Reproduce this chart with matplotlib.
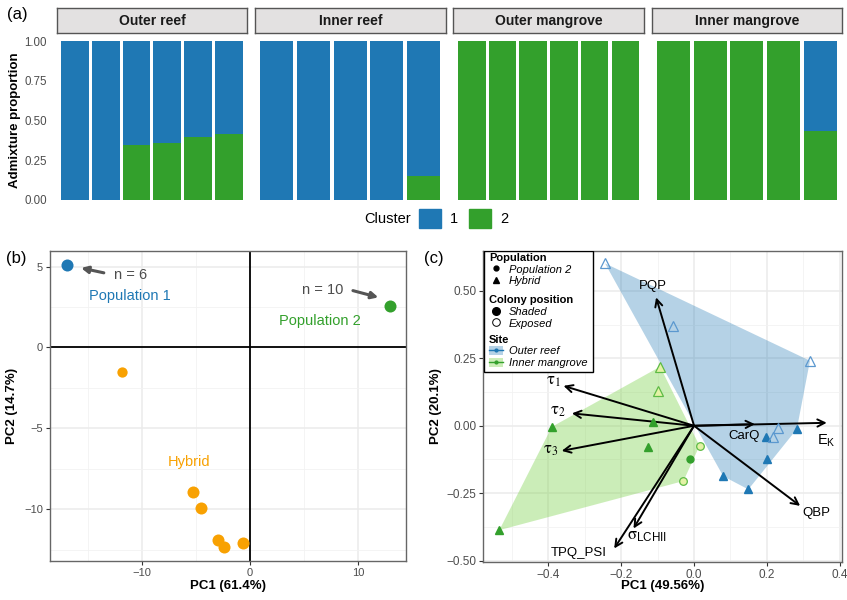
import numpy as np
import matplotlib
matplotlib.use("Agg")
import matplotlib.pyplot as plt
from matplotlib.patches import Patch, Rectangle, Polygon
from matplotlib.lines import Line2D

plt.rcParams['font.family'] = ['Liberation Sans', 'DejaVu Sans']
plt.rcParams['mathtext.fontset'] = 'stix'

BLUE = '#1F78B4'
GREEN = '#33A02C'
ORANGE = '#F8A102'
TICK_COL = '#4D4D4D'

# ---- (a) admixture proportions (cluster 2 share per colony)
sites = ['Outer reef', 'Inner reef', 'Outer mangrove', 'Inner mangrove']
cluster2 = [
    [0.0, 0.0, 0.347, 0.359, 0.397, 0.418],
    [0.0, 0.0, 0.0, 0.0, 0.153],
    [1.0, 1.0, 1.0, 1.0, 1.0, 1.0],
    [1.0, 1.0, 1.0, 1.0, 0.435],
]

# ---- (b) genetic PCA
pop1_x = [-16.9]
pop1_y = [5.1]
pop2_x = [12.9]
pop2_y = [2.55]
hyb_x = [-11.85, -5.23, -4.52, -2.92, -2.40, -0.68]
hyb_y = [-1.5, -8.93, -9.95, -11.9, -12.35, -12.1]

# ---- (c) photophysiology PCA
or_shaded_x = [0.197, 0.282, 0.199, 0.080, 0.149]
or_shaded_y = [-0.043, -0.012, -0.124, -0.187, -0.236]
or_exposed_x = [-0.244, -0.057, 0.318, 0.231, 0.217]
or_exposed_y = [0.602, 0.371, 0.241, -0.010, -0.043]
im_hyb_shaded_x = [-0.390, -0.113, -0.127, -0.534]
im_hyb_shaded_y = [-0.004, 0.015, -0.078, -0.387]
im_hyb_exposed_x = [-0.093, -0.100]
im_hyb_exposed_y = [0.219, 0.129]
im_pop2_shaded_x = [-0.011]
im_pop2_shaded_y = [-0.124]
im_pop2_exposed_x = [0.015, -0.029]
im_pop2_exposed_y = [-0.074, -0.205]

load_names = ['PQP', r'E$_\mathregular{K}$', 'CarQ', 'QBP',
              r'$\mathrm{\tau}_\mathrm{1}$', r'$\mathrm{\tau}_\mathrm{2}$', r'$\mathrm{\tau}_\mathrm{3}$',
              r'$\mathrm{\sigma}_\mathregular{LCHII}$', 'TPQ_PSI']
load_x = [-0.104, 0.364, 0.167, 0.291, -0.358, -0.335, -0.363, -0.166, -0.219]
load_y = [0.476, 0.011, 0.006, -0.297, 0.148, 0.046, -0.093, -0.381, -0.455]
lab_x = [-0.113, 0.362, 0.137, 0.335, -0.387, -0.373, -0.394, -0.128, -0.315]
lab_y = [0.518, -0.055, -0.038, -0.325, 0.163, 0.052, -0.09, -0.412, -0.471]
lab_size = [9.5, 10.5, 9.5, 9.5, 12, 12, 12, 12, 9.5]


def convex_hull(xs, ys):
    pts = sorted(set(zip(xs, ys)))

    def cross(o, a, b):
        return (a[0] - o[0]) * (b[1] - o[1]) - (a[1] - o[1]) * (b[0] - o[0])
    lower, upper = [], []
    for p in pts:
        while len(lower) >= 2 and cross(lower[-2], lower[-1], p) <= 0:
            lower.pop()
        lower.append(p)
    for p in reversed(pts):
        while len(upper) >= 2 and cross(upper[-2], upper[-1], p) <= 0:
            upper.pop()
        upper.append(p)
    return lower[:-1] + upper[:-1]


W, H = 847, 600
fig = plt.figure(figsize=(W / 100, H / 100), dpi=100)


def fax(l, t, r, b):
    return fig.add_axes([l / W, 1 - b / H, (r - l) / W, (b - t) / H])


# ================= (a)
lefts = [56.7, 255.0, 453.3, 651.7]
for i, (site, k2) in enumerate(zip(sites, cluster2)):
    ax = fax(lefts[i], 41.3, lefts[i] + 190.5, 200)
    pos = np.arange(1, len(k2) + 1)
    k2 = np.array(k2)
    ax.bar(pos, k2, width=0.9, color=GREEN, linewidth=0)
    ax.bar(pos, 1 - k2, bottom=k2, width=0.9, color=BLUE, linewidth=0)
    ax.set_xlim(0.4, len(k2) + 0.6)
    ax.set_ylim(0, 1)
    for s in ax.spines.values():
        s.set_visible(False)
    ax.set_xticks([])
    if i == 0:
        ax.set_yticks([0, 0.25, 0.5, 0.75, 1.0])
        ax.set_yticklabels(['0.00', '0.25', '0.50', '0.75', '1.00'])
        ax.tick_params(axis='y', length=0, pad=7, labelsize=8.3, labelcolor=TICK_COL)
    else:
        ax.set_yticks([])
    sax = fax(lefts[i], 8.3, lefts[i] + 190.5, 32.7)
    sax.set_facecolor('#E3E1E1')
    sax.set_xticks([])
    sax.set_yticks([])
    for s in sax.spines.values():
        s.set_color('#555555')
        s.set_linewidth(1)
    sax.text(0.5, 0.48, site, ha='center', va='center', fontsize=10, fontweight='bold',
             color='#1A1A1A', transform=sax.transAxes)

fig.text(15 / W, 1 - 120 / H, 'Admixture proportion', rotation=90, ha='center', va='center',
         fontsize=9.5, fontweight='bold')
fig.text(411 / W, 1 - 218.5 / H, 'Cluster', ha='right', va='center', fontsize=10.5)
fig.legend([Patch(color=BLUE), Patch(color=GREEN)], ['1', '2'], loc='center left',
           bbox_to_anchor=(419 / W, 1 - 218.5 / H), ncol=2, frameon=False, borderpad=0,
           borderaxespad=0, handlelength=1.5, handleheight=1.6, handletextpad=0.6,
           columnspacing=0.8, fontsize=10.5)
fig.text(17 / W, 1 - 14 / H, '(a)', ha='center', va='center', fontsize=12)


def style_panel(ax, lsize):
    ax.set_axisbelow(True)
    ax.grid(which='major', color='#EBEBEB', linewidth=1.1)
    ax.grid(which='minor', color='#F2F2F2', linewidth=0.6)
    for s in ax.spines.values():
        s.set_color('#666666')
        s.set_linewidth(1)
    ax.tick_params(which='major', length=3, width=0.8, color='#333333', labelsize=lsize,
                   labelcolor=TICK_COL, pad=2)
    ax.tick_params(which='minor', length=0)


# ================= (b)
axb = fax(50, 250.7, 406, 561.3)
style_panel(axb, 8)
axb.set_xlim(-18.47, 14.4)
axb.set_ylim(-13.23, 5.99)
axb.set_xticks([-10, 0, 10])
axb.set_xticklabels(['\u221210', '0', '10'])
axb.set_xticks([-15, -5, 5], minor=True)
axb.set_yticks([-10, -5, 0, 5])
axb.set_yticklabels(['\u221210', '\u22125', '0', '5'])
axb.set_yticks([-12.5, -7.5, -2.5, 2.5], minor=True)
axb.axhline(0, color='black', linewidth=1.3, zorder=1)
axb.axvline(0, color='black', linewidth=1.3, zorder=1)
axb.scatter(pop1_x, pop1_y, s=75, color=BLUE, zorder=3, linewidths=0)
axb.scatter(pop2_x, pop2_y, s=75, color=GREEN, zorder=3, linewidths=0)
axb.scatter(hyb_x[:1], hyb_y[:1], s=55, color=ORANGE, zorder=3, linewidths=0)
axb.scatter(hyb_x[1:], hyb_y[1:], s=75, color=ORANGE, zorder=3, linewidths=0)
arrow_b = dict(arrowstyle='-|>', color='#555555', lw=2.2, mutation_scale=10, shrinkA=0, shrinkB=0)
axb.annotate('', xy=(-15.6, 4.92), xytext=(-13.5, 4.62), arrowprops=arrow_b)
axb.annotate('', xy=(11.85, 3.1), xytext=(9.5, 3.52), arrowprops=arrow_b)
axb.text(-11.0, 4.5, 'n = 6', ha='center', va='center', fontsize=10.5, color='#4D4D4D')
axb.text(6.75, 3.55, 'n = 10', ha='center', va='center', fontsize=10.5, color='#4D4D4D')
axb.text(-11.1, 3.2, 'Population 1', ha='center', va='center', fontsize=10.5, color=BLUE)
axb.text(6.45, 1.65, 'Population 2', ha='center', va='center', fontsize=10.5, color=GREEN)
axb.text(-5.6, -7.1, 'Hybrid', ha='center', va='center', fontsize=10.5, color=ORANGE)
fig.text(228 / W, 1 - 586 / H, 'PC1 (61.4%)', ha='center', va='center', fontsize=9.5, fontweight='bold')
fig.text(12 / W, 1 - 406 / H, 'PC2 (14.7%)', rotation=90, ha='center', va='center',
         fontsize=9.5, fontweight='bold')
fig.text(16 / W, 1 - 259 / H, '(b)', ha='center', va='center', fontsize=12)

# ================= (c)
axc = fax(483.3, 251, 841.7, 561.7)
style_panel(axc, 8.5)
axc.set_xlim(-0.578, 0.405)
axc.set_ylim(-0.504, 0.648)
axc.set_xticks([-0.4, -0.2, 0.0, 0.2, 0.4])
axc.set_xticklabels(['\u22120.4', '\u22120.2', '0.0', '0.2', '0.4'])
axc.set_xticks([-0.5, -0.3, -0.1, 0.1, 0.3], minor=True)
axc.set_yticks([-0.5, -0.25, 0, 0.25, 0.5])
axc.set_yticklabels(['\u22120.50', '\u22120.25', '0.00', '0.25', '0.50'])
axc.set_yticks([-0.375, -0.125, 0.125, 0.375], minor=True)

or_hull = convex_hull(or_shaded_x + or_exposed_x, or_shaded_y + or_exposed_y)
im_hull = convex_hull(im_hyb_shaded_x + im_hyb_exposed_x + im_pop2_shaded_x + im_pop2_exposed_x,
                      im_hyb_shaded_y + im_hyb_exposed_y + im_pop2_shaded_y + im_pop2_exposed_y)
axc.add_patch(Polygon(or_hull, closed=True, facecolor=BLUE, alpha=0.33, edgecolor='none', zorder=1))
axc.add_patch(Polygon(im_hull, closed=True, facecolor='#7FD34E', alpha=0.4, edgecolor='none', zorder=1))

for hx, hy, lx, ly, name, fs in zip(load_x, load_y, lab_x, lab_y, load_names, lab_size):
    axc.annotate('', xy=(hx, hy), xytext=(0, 0),
                 arrowprops=dict(arrowstyle='->', color='black', lw=1.4, mutation_scale=13,
                                 shrinkA=0, shrinkB=0), zorder=3)
    axc.text(lx, ly, name, ha='center', va='center', fontsize=fs, color='black', zorder=4)

axc.plot(or_shaded_x, or_shaded_y, '^', ms=6, color=BLUE, mec=BLUE, zorder=3)
axc.plot(or_exposed_x, or_exposed_y, '^', ms=6.5, mfc='none', mec='#5B98CF', mew=0.9, zorder=3)
axc.plot(im_hyb_shaded_x, im_hyb_shaded_y, '^', ms=6, color=GREEN, mec=GREEN, zorder=3)
axc.plot(im_hyb_exposed_x, im_hyb_exposed_y, '^', ms=6.5, mfc='#E4F2A6', mec='#5DBB45',
         mew=0.9, zorder=3)
axc.plot(im_pop2_shaded_x, im_pop2_shaded_y, 'o', ms=5, color=GREEN, mec=GREEN, zorder=3)
axc.plot(im_pop2_exposed_x, im_pop2_exposed_y, 'o', ms=5.5, mfc='#E4F2A6', mec='#5DBB45',
         mew=0.9, zorder=3)

# legend box
axc.add_patch(Rectangle((0.002, 0.61), 0.303, 0.39, transform=axc.transAxes,
                        facecolor='white', edgecolor='black', linewidth=1, zorder=6))
leg_kw = dict(loc='upper left', frameon=False, borderpad=0, borderaxespad=0,
              handlelength=1.3, handleheight=0.9, handletextpad=0.5, labelspacing=0.12,
              alignment='left', prop={'style': 'italic', 'size': 8},
              title_fontproperties={'weight': 'bold', 'size': 8})
kblack = dict(linestyle='none', color='black')
leg1 = axc.legend([Line2D([], [], marker='o', ms=3.5, **kblack),
                   Line2D([], [], marker='^', ms=4, **kblack)],
                  ['Population 2', 'Hybrid'], title='Population',
                  bbox_to_anchor=(0.016, 0.994), **leg_kw)
leg2 = axc.legend([Line2D([], [], marker='o', ms=5.5, **kblack),
                   Line2D([], [], marker='o', ms=5.5, mfc='white', linestyle='none',
                          color='black', mew=0.7)],
                  ['Shaded', 'Exposed'], title='Colony position',
                  bbox_to_anchor=(0.016, 0.858), **leg_kw)
site_handles = [(Patch(facecolor=BLUE, alpha=0.33), Line2D([], [], color=BLUE, marker='.', lw=1, ms=4)),
                (Patch(facecolor='#7FD34E', alpha=0.4), Line2D([], [], color=GREEN, marker='.', lw=1, ms=4))]
leg3 = axc.legend(site_handles, ['Outer reef', 'Inner mangrove'], title='Site',
                  bbox_to_anchor=(0.016, 0.731), **leg_kw)
for lg in (leg1, leg2, leg3):
    lg.set_zorder(7)
    lg._legend_title_box._text.set_ha('left')
axc.add_artist(leg1)
axc.add_artist(leg2)

fig.text(663 / W, 1 - 586 / H, 'PC1 (49.56%)', ha='center', va='center', fontsize=9.5, fontweight='bold')
fig.text(436 / W, 1 - 406 / H, 'PC2 (20.1%)', rotation=90, ha='center', va='center',
         fontsize=9.5, fontweight='bold')
fig.text(434 / W, 1 - 259 / H, '(c)', ha='center', va='center', fontsize=12)

fig.savefig('out.png', dpi=100)
